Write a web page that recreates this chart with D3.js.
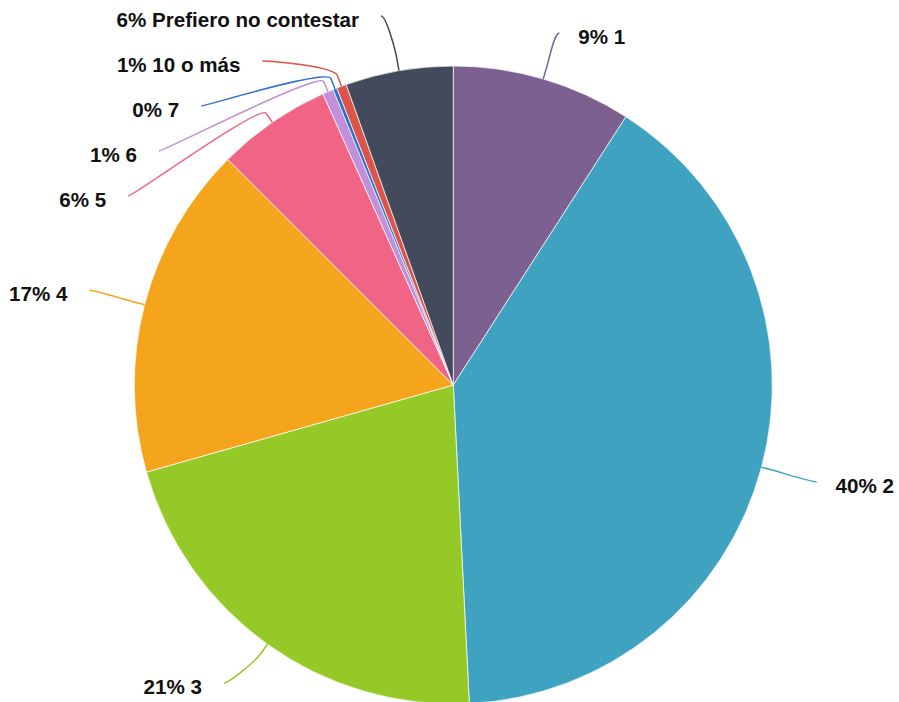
<!DOCTYPE html>
<html><head><meta charset="utf-8">
<script src="https://cdn.jsdelivr.net/npm/d3@7"></script>
<style>html,body{margin:0;padding:0;background:#fff;}svg{display:block;}</style>
</head><body><svg id="c" width="899" height="702"></svg>
<script>
const categories = ["1", "2", "3", "4", "5", "6", "7", "10 o más", "Prefiero no contestar"];
const values = [9.1, 40.1, 21.4, 16.9, 5.8, 0.55, 0.2, 0.5, 5.45];
const labels = ["9%", "40%", "21%", "17%", "6%", "1%", "0%", "1%", "6%"];
const colors = ["#7c6090", "#40a2c1", "#95c928", "#f4a51c", "#f06586", "#c290d8", "#2e6fd4", "#dc5347", "#434a5c"];

const W = 899, H = 702;
const cx = 453.3, cy = 385, r = 319;
const labelR = 376, crook = 11, minGap = 45;

const svg = d3.select("#c");
const g = svg.append("g").attr("transform", `translate(${cx},${cy})`);
const data = categories.map((c, i) => ({cat: c, value: values[i], label: labels[i], color: colors[i]}));
const pie = d3.pie().sort(null).value(d => d.value).startAngle(0).endAngle(2 * Math.PI);
const arcs = pie(data);
const arc = d3.arc().innerRadius(0).outerRadius(r);

g.selectAll("path.slice").data(arcs).enter().append("path")
  .attr("class", "slice")
  .attr("d", arc)
  .attr("fill", d => d.data.color)
  .attr("stroke", "#ffffff").attr("stroke-opacity", 0.7).attr("stroke-width", 1);

// label layout
const items = arcs.map(a => {
  const m = (a.startAngle + a.endAngle) / 2;
  const sx = Math.sin(m), sy = -Math.cos(m);
  return {a, m, sx, sy, right: sx >= 0,
    touch: [r * sx, r * sy], brk: [(r + crook) * sx, (r + crook) * sy],
    y: labelR * sy};
});
function distribute(list, topPad) {
  list.sort((p, q) => p.y - q.y);
  const top = -cy + topPad, bottom = H - cy - 19;
  for (let i = 0; i < list.length; i++) {
    if (i === 0) list[i].y = Math.max(list[i].y, top);
    else list[i].y = Math.max(list[i].y, list[i - 1].y + minGap);
  }
  for (let i = list.length - 1; i >= 0; i--) {
    if (i === list.length - 1) list[i].y = Math.min(list[i].y, bottom);
    else list[i].y = Math.min(list[i].y, list[i + 1].y - minGap);
  }
}
distribute(items.filter(d => d.right), 33);
distribute(items.filter(d => !d.right), 16);
items.forEach(d => {
  if (d.right) {
    d.x = labelR * d.sx;
  } else {
    const yy = Math.max(-labelR, Math.min(labelR, d.y));
    d.x = -Math.sqrt(labelR * labelR - yy * yy);
  }
});

g.selectAll("path.conn").data(items).enter().append("path")
  .attr("class", "conn")
  .attr("fill", "none")
  .attr("stroke", d => d.a.data.color)
  .attr("stroke-width", 1.5)
  .attr("d", d => {
    const c1x = d.x + (d.right ? -5 : 5);
    const c2x = 2 * d.brk[0] - d.touch[0], c2y = 2 * d.brk[1] - d.touch[1];
    return `M${d.x},${d.y}C${c1x},${d.y} ${c2x},${c2y} ${d.brk[0]},${d.brk[1]}L${d.touch[0]},${d.touch[1]}`;
  });

g.selectAll("text.lbl").data(items).enter().append("text")
  .attr("class", "lbl")
  .attr("x", d => d.right ? d.x + 19 : d.x - 22)
  .attr("y", d => d.y + 11)
  .attr("text-anchor", d => d.right ? "start" : "end")
  .attr("font-family", "Liberation Sans, Arial, sans-serif")
  .attr("font-weight", "bold")
  .attr("font-size", "20.6px")
  .attr("fill", "#111")
  .text(d => d.a.data.label + " " + d.a.data.cat);
</script>
</body></html>
